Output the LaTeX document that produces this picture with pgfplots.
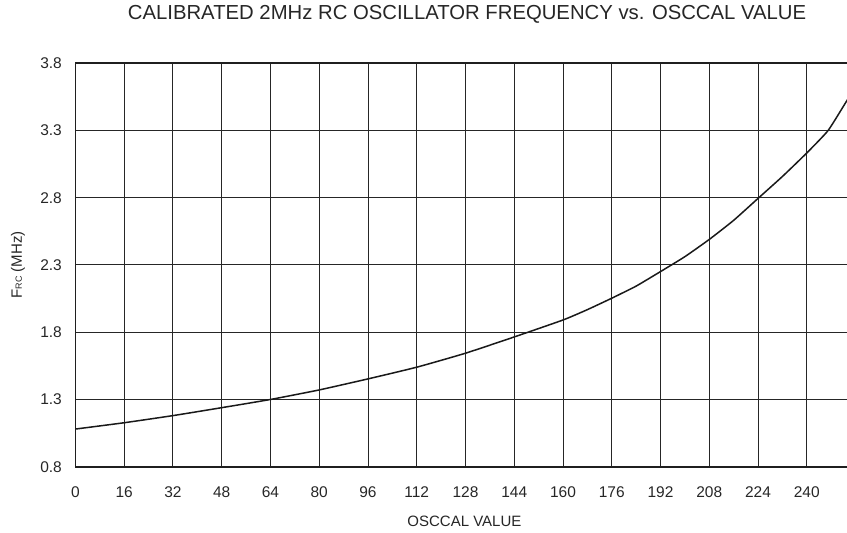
\documentclass[border=0pt]{standalone}
\usepackage{fontspec}
\setmainfont{Liberation Sans}
\usepackage{pgfplots}
\pgfplotsset{compat=1.18}
\begin{document}
\begin{tikzpicture}
\begin{axis}[
  name=ax,
  scale only axis,
  width=780pt, height=403.4pt,
  xmin=0, xmax=256, ymin=0.8, ymax=3.8,
  xtick={0,16,...,240},
  ytick={0.8,1.3,1.8,2.3,2.8,3.3,3.8},
  yticklabels={0.8,1.3,1.8,2.3,2.8,3.3,3.8},
  major tick length=0pt,
  grid=major,
  grid style={line width=1.0pt, black!85},
  axis line style={line width=1.8pt, black!88},
  tick label style={font=\fontsize{15.5}{18}\selectfont, inner sep=0pt, text=black!85},
  xticklabel style={anchor=base, yshift=-30.8pt},
  yticklabel style={anchor=east, xshift=-13.5pt},
  /pgf/number format/assume math mode=true,
  title={CALIBRATED 2MHz RC OSCILLATOR FREQUENCY vs. OSCCAL VALUE},
  title style={font=\fontsize{20.3}{24}\selectfont, at={(axis description cs:0.502,1)}, anchor=base, yshift=38pt, inner sep=0pt, text=black!85},
  xlabel={OSCCAL VALUE},
  xlabel style={font=\fontsize{15}{18}\selectfont, at={(axis description cs:0.4986,0)}, anchor=base, yshift=-60pt, inner sep=0pt, text=black!85},
  ylabel={F{\fontsize{9}{10}\selectfont RC} (MHz)},
  ylabel style={font=\fontsize{15}{18}\selectfont, at={(axis description cs:-0.0737,0.5)}, anchor=center, inner sep=0pt, text=black!85},
]
\addplot[line width=1.5pt, black!90, smooth, tension=0.3] coordinates {
(0,1.08) (16,1.127) (32,1.18) (48,1.239) (64,1.30) (80,1.371) (96,1.453)
(112,1.54) (128,1.644) (144,1.765) (160,1.891) (168,1.968) (176,2.053)
(184,2.143) (192,2.251) (200,2.362) (208,2.49) (216,2.632) (224,2.795)
(232,2.958) (240,3.133) (247,3.30) (253,3.516) (256,3.62)
};
\end{axis}
\pgfresetboundingbox
\path[use as bounding box] ([shift={(-75.5pt,-66.3pt)}]ax.south west) rectangle ([shift={(771.5pt,466.7pt)}]ax.south west);
\end{tikzpicture}
\end{document}
